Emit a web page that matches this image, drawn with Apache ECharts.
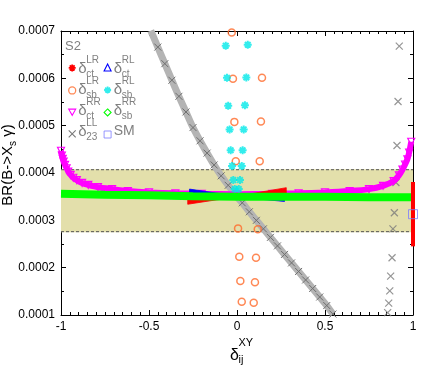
<!DOCTYPE html>
<html><head><meta charset="utf-8">
<script src="https://cdn.jsdelivr.net/npm/echarts@6/dist/echarts.min.js"></script>
<style>html,body{margin:0;padding:0;background:#fff}#c{width:436px;height:368px}</style>
</head><body><div id="c"></div>
<script>
// ---------- data ----------
const xTickLabels = ['-1', '-0.5', '0', '0.5', '1'];
const yTickLabels = ['0.0001', '0.0002', '0.0003', '0.0004', '0.0005', '0.0006', '0.0007'];
const expBand = [0.000275, 0.000408];           // experimental band [low, high]
// delta_ct^LR : wedge [x, low, high] and the edge at x = 1
const ctLR = [[-0.28,0.000334,0.000347],[-0.14,0.000342,0.000349],[0,0.000349,0.000351],[0.14,0.000352,0.00036],[0.28,0.000355,0.000369]];
const ctLREdge = [[1,0.000245],[1,0.000381]];
// delta_ct^RL : wedge [x, low, high]
const ctRL = [[-0.27,0.000353,0.000366],[0,0.000349,0.000351],[0.27,0.00034,0.000348]];
// delta_sb^LR
const sbLR = [[-0.030,0.000697],[-0.023,0.000599],[0.142,0.000601],[-0.015,0.000508],[0.136,0.000509],[-0.007,0.000425],[0.129,0.000425],[0.006,0.000283],[0.118,0.000281],[0.013,0.000223],[0.108,0.000221],[0.019,0.000172],[0.102,0.000169],[0.027,0.000128],[0.095,0.000126]];
// delta_sb^RL
const sbRL = [[-0.064,0.000669],[0.061,0.000671],[-0.057,0.000601],[0.053,0.000602],[-0.050,0.000542],[0.045,0.000543],[-0.042,0.000492],[0.038,0.000492],[-0.036,0.000448],[0.032,0.000448],[-0.028,0.000415],[0.027,0.000415],[-0.021,0.000385],[0.017,0.000385],[-0.013,0.000366],[0.010,0.000366]];
// delta_ct^RR
const ctRR = [[-1.0,0.000447],[-0.995,0.000437],[-0.99,0.00043],[-0.985,0.000424],[-0.977,0.000417],[-0.968,0.00041],[-0.959,0.000403],[-0.945,0.000396],[-0.93,0.00039],[-0.91,0.000385],[-0.88,0.000379],[-0.845,0.000375],[-0.79,0.00037],[-0.71,0.000366],[-0.62,0.000362],[-0.5,0.000359],[-0.35,0.000357],[-0.2,0.000356],[0,0.000355],[0.2,0.000356],[0.35,0.000357],[0.5,0.000359],[0.64,0.000362],[0.75,0.000366],[0.83,0.000373],[0.89,0.000383],[0.92,0.000395],[0.94,0.000407],[0.955,0.000418],[0.968,0.000429],[0.978,0.000443],[0.99,0.000466]];
// delta_sb^RR
const sbRR = [[-1,0.000356],[-0.75,0.000354],[-0.5,0.000353],[-0.25,0.000351],[0,0.00035],[0.25,0.00035],[0.5,0.00035],[0.75,0.000349],[1,0.000349]];
// delta_23^LL : diagonal branch and the column near x ~ 0.9
const d23LLLine = [[-0.49,0.000701],[-0.45,0.000666],[-0.41,0.000631],[-0.37,0.000596],[-0.33,0.000562],[-0.29,0.000529],[-0.25,0.000496],[-0.21,0.000468],[-0.17,0.000442],[-0.13,0.000417],[-0.09,0.000394],[-0.05,0.000374],[-0.01,0.000354],[0.03,0.000337],[0.07,0.000318],[0.11,0.0003],[0.15,0.000282],[0.19,0.000264],[0.23,0.000246],[0.27,0.000228],[0.31,0.00021],[0.35,0.000192],[0.39,0.000174],[0.43,0.000156],[0.47,0.000138],[0.51,0.00012],[0.545,0.000102]];
const d23LLCol = [[0.922,0.000668],[0.915,0.000551],[0.909,0.000458],[0.903,0.00038],[0.894,0.000316],[0.886,0.000282],[0.881,0.000221],[0.873,0.000182],[0.868,0.000151],[0.862,0.000125],[0.856,0.000105]];
// Standard Model
const smPoint = [[1,0.000313]];

// legend / title text pieces
const legendItems = [
  {name:'ctLR', sub:'ct', sup:'LR'}, {name:'ctRL', sub:'ct', sup:'RL'},
  {name:'sbLR', sub:'sb', sup:'LR'}, {name:'sbRL', sub:'sb', sup:'RL'},
  {name:'ctRR', sub:'ct', sup:'RR'}, {name:'sbRR', sub:'sb', sup:'RR'},
  {name:'23LL', sub:'23', sup:'LL'}, {name:'SM', plain:'SM'}
];
const panelLabel = 'S2';
const yTitle = '{a|BR(B->X}{s|s}{a| γ)}';
const xTitle = {main:'δ', sup:'XY', sub:'ij'};

// ---------- styles ----------
const FONT = 'Liberation Sans';
const C = {ctLR:'#ff0000', ctRL:'#0000ff', sbLR:'#ff6a2a', sbRL:'#00e8e8', ctRR:'#ff00ff', sbRR:'#00ff00', d23:'#7a7a7a', sm:'#7c7cff'};
const STAR = 'path://M0,-4L0,4M-4,0L4,0M-2.8,-2.8L2.8,2.8M-2.8,2.8L2.8,-2.8';
const XMARK = 'path://M-4,-4L4,4M-4,4L4,-4';
const TRI_DOWN = 'path://M-4,-3.5L4,-3.5L0,3.5Z';
const hollow = (c, w) => ({color:'rgba(0,0,0,0)', borderColor:c, borderWidth:w});
const txt = (x, y, text, size, fill, extra) => Object.assign({type:'text', x, y, silent:true,
  style:{text, fill, fontSize:size, fontFamily:FONT, align:'left', verticalAlign:'middle', textAlign:'left', textVerticalAlign:'middle'}}, extra || {});

function wedgeRender(color){
  return function(params, api){
    const i = params.dataIndexInside;
    if (i >= params.dataInsideLength - 1) return null;
    const x0 = api.value(0, i), l0 = api.value(1, i), h0 = api.value(2, i);
    const x1 = api.value(0, i+1), l1 = api.value(1, i+1), h1 = api.value(2, i+1);
    const pts = [api.coord([x0,l0]), api.coord([x1,l1]), api.coord([x1,h1]), api.coord([x0,h0])];
    return {type:'polygon', shape:{points:pts}, style:{fill:color, stroke:color, lineWidth:0.8}};
  };
}

const chart = echarts.init(document.getElementById('c'), null, {renderer:'canvas'});
const axisCommon = {
  axisLine:{show:true, onZero:false, lineStyle:{color:'#000', width:1}},
  axisTick:{show:true, inside:true, length:5, lineStyle:{color:'#000', width:1}},
  splitLine:{show:false}
};
const grid = {left:61, right:23, top:31, bottom:53, outerBoundsMode:'none', containLabel:false};

// legend label graphics
const rowsY = [67, 88, 109, 130];
const colsX = [71.3, 106.7];
const graphics = [];
graphics.push(txt(65, 46, panelLabel, 13, '#808080'));
legendItems.forEach((it, k) => {
  const col = k % 2, row = Math.floor(k / 2);
  const x = colsX[col], y = rowsY[row];
  if (it.plain) { graphics.push(txt(x+7, y+1, it.plain, 14, '#808080')); return; }
  graphics.push(txt(x+7, y+1.5, 'δ', 15, '#808080'));
  graphics.push(txt(x+15, y-6.5, it.sup, 10, '#808080'));
  graphics.push(txt(x+15, y+7.5, it.sub, 10, '#808080'));
});
// x-axis title
graphics.push(txt(230, 356, xTitle.main, 16, '#000'));
graphics.push(txt(238.5, 342.5, xTitle.sup, 11, '#000'));
graphics.push(txt(238.5, 360, xTitle.sub, 11, '#000'));
// y-axis title (rotated)
graphics.push({type:'text', x:8, y:165, rotation:Math.PI/2, silent:true, style:{text:yTitle, align:'center', verticalAlign:'middle', textAlign:'center', textVerticalAlign:'middle',
  rich:{a:{fontSize:15, fontFamily:FONT, fill:'#000', color:'#000', lineHeight:20, verticalAlign:'middle'},
        s:{fontSize:10, fontFamily:FONT, fill:'#000', color:'#000', lineHeight:9, verticalAlign:'bottom'}}}});

const legendBase = {orient:'vertical', padding:0, itemWidth:7, itemHeight:7, itemGap:14, selectedMode:false,
  formatter:() => '', textStyle:{fontSize:1}, top:63.5};

const option = {
  animation:false,
  backgroundColor:'#fff',
  grid,
  graphic: graphics,
  legend:[
    Object.assign({}, legendBase, {left:67.8, data:[
      {name:'ctLR', icon:STAR, itemStyle:hollow(C.ctLR, 1.8)},
      {name:'sbLR', icon:'circle', itemStyle:hollow(C.sbLR, 1.3)},
      {name:'ctRR', icon:TRI_DOWN, itemStyle:hollow(C.ctRR, 1.1)},
      {name:'23LL', icon:XMARK, itemStyle:hollow(C.d23, 1.1)}
    ]}),
    Object.assign({}, legendBase, {left:103.2, data:[
      {name:'ctRL', icon:'triangle', itemStyle:hollow(C.ctRL, 1.1)},
      {name:'sbRL', icon:STAR, itemStyle:hollow(C.sbRL, 1.8)},
      {name:'sbRR', icon:'diamond', itemStyle:hollow(C.sbRR, 1.1)},
      {name:'SM', icon:'rect', itemStyle:hollow(C.sm, 1)}
    ]})
  ],
  xAxis:[
    Object.assign({}, axisCommon, {type:'value', min:-1, max:1, interval:0.5, position:'bottom',
      minorTick:{show:true, splitNumber:10, length:3, lineStyle:{color:'#000', width:1}},
      axisLabel:{show:true, margin:6, color:'#000', fontSize:12, fontFamily:FONT,
        formatter:(v) => xTickLabels[Math.round((v + 1) / 0.5)] ?? ''}}),
    Object.assign({}, axisCommon, {type:'value', min:-1, max:1, interval:0.5, position:'top',
      minorTick:{show:true, splitNumber:10, length:3, lineStyle:{color:'#000', width:1}},
      axisLabel:{show:false}})
  ],
  yAxis:[
    Object.assign({}, axisCommon, {type:'value', min:0.0001, max:0.0007, interval:0.0001, position:'left',
      minorTick:{show:true, splitNumber:2, length:3, lineStyle:{color:'#000', width:1}},
      axisLabel:{show:true, margin:6, color:'#000', fontSize:12, fontFamily:FONT,
        formatter:(v) => yTickLabels[Math.round((v - 0.0001) / 0.0001)] ?? ''}}),
    Object.assign({}, axisCommon, {type:'value', min:0.0001, max:0.0007, interval:0.0001, position:'right',
      minorTick:{show:true, splitNumber:2, length:3, lineStyle:{color:'#000', width:1}},
      axisLabel:{show:false}})
  ],
  series:[
    {type:'custom', name:'band', silent:true, z:1, clip:true,
      data:[[-1, 1, expBand[0], expBand[1]]], encode:{x:[0,1], y:[2,3]},
      renderItem:(params, api) => {
        const p1 = api.coord([api.value(0), api.value(3)]);
        const p2 = api.coord([api.value(1), api.value(2)]);
        return {type:'group', children:[
          {type:'rect', shape:{x:p1[0], y:p1[1], width:p2[0]-p1[0], height:p2[1]-p1[1]}, style:{fill:'#e3dfab'}},
          {type:'line', shape:{x1:p1[0], y1:p1[1]+0.5, x2:p2[0], y2:p1[1]+0.5}, style:{stroke:'#555', lineWidth:1, lineDash:[3,2]}},
          {type:'line', shape:{x1:p1[0], y1:p2[1]-0.5, x2:p2[0], y2:p2[1]-0.5}, style:{stroke:'#555', lineWidth:1, lineDash:[3,2]}}
        ]};
      }},
    {type:'line', name:'23LL', z:2, data:d23LLLine, smooth:0.3, symbol:XMARK, symbolSize:7, showSymbol:true,
      lineStyle:{color:'#b4b4b4', width:7}, itemStyle:hollow('#6e6e6e', 1)},
    {type:'scatter', name:'23LL', z:2, data:d23LLCol, symbol:XMARK, symbolSize:7, itemStyle:hollow(C.d23, 1.2)},
    {type:'scatter', name:'sbLR', z:3, data:sbLR, symbol:'circle', symbolSize:7, itemStyle:hollow(C.sbLR, 1.5)},
    {type:'scatter', name:'sbRL', z:4, data:sbRL, symbol:STAR, symbolSize:8, itemStyle:hollow(C.sbRL, 2)},
    {type:'line', name:'ctRR', z:3, data:ctRR, smooth:0.2, symbol:TRI_DOWN, symbolSize:7, showSymbol:true,
      lineStyle:{color:C.ctRR, width:6}, itemStyle:hollow(C.ctRR, 1.2)},
    {type:'custom', name:'ctRL', z:4, clip:true, data:ctRL, encode:{x:0, y:[1,2]}, renderItem:wedgeRender(C.ctRL), itemStyle:{color:C.ctRL}},
    {type:'custom', name:'ctLR', z:4, clip:true, data:ctLR, encode:{x:0, y:[1,2]}, renderItem:wedgeRender(C.ctLR), itemStyle:{color:C.ctLR}},
    {type:'line', name:'sbRR', z:5, data:sbRR, symbol:'diamond', showSymbol:false,
      lineStyle:{color:C.sbRR, width:8}, itemStyle:hollow(C.sbRR, 1.2)},
    {type:'line', name:'ctLR', z:6, data:ctLREdge, symbol:'none', clip:true, lineStyle:{color:C.ctLR, width:4}},
    {type:'scatter', name:'SM', z:6, data:smPoint, symbol:'rect', symbolSize:9, clip:false, itemStyle:hollow(C.sm, 1)}
  ]
};
chart.setOption(option);
</script>
</body></html>
